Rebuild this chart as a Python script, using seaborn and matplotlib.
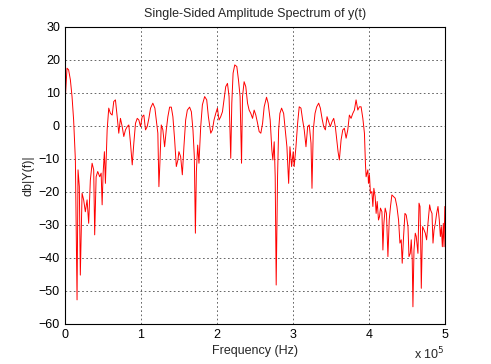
import numpy as np
import pandas as pd
import matplotlib
matplotlib.use("Agg")
import matplotlib.pyplot as plt
import seaborn as sns
from matplotlib.ticker import FuncFormatter

# ------------------------------------------------------------------
# data (frequency in units of 1e5 Hz, level in dB)
# ------------------------------------------------------------------
freq_e5 = [
    0.0, 0.029, 0.05, 0.073, 0.095, 0.116, 0.139, 0.161, 0.174, 0.191,
    0.204, 0.227, 0.248, 0.27, 0.293, 0.314, 0.336, 0.359, 0.38, 0.393,
    0.412, 0.433, 0.459, 0.478, 0.491, 0.504, 0.521, 0.534, 0.557, 0.578,
    0.6, 0.623, 0.644, 0.666, 0.689, 0.71, 0.732, 0.755, 0.776, 0.798,
    0.821, 0.842, 0.864, 0.887, 0.908, 0.93, 0.953, 0.974,
    0.996, 1.018, 1.04, 1.062, 1.084, 1.106, 1.128, 1.158, 1.185, 1.203,
    1.224, 1.238, 1.251, 1.269, 1.29, 1.313, 1.335, 1.356, 1.379, 1.401,
    1.422, 1.445, 1.467, 1.488, 1.501, 1.524, 1.546, 1.567, 1.59, 1.612,
    1.642, 1.665, 1.686, 1.704, 1.718, 1.731, 1.748, 1.765, 1.788, 1.81,
    1.84, 1.867, 1.889, 1.92,
    1.942, 1.963, 1.986, 2.008, 2.029, 2.051, 2.074, 2.095, 2.117, 2.14,
    2.161, 2.183, 2.197, 2.214, 2.236, 2.263, 2.285, 2.306, 2.325, 2.338,
    2.359, 2.381, 2.404, 2.425, 2.447, 2.47, 2.491, 2.513, 2.536, 2.557,
    2.579, 2.602, 2.623, 2.654, 2.675, 2.702, 2.724, 2.737, 2.755, 2.768,
    2.781, 2.799, 2.813, 2.83, 2.852, 2.879, 2.896, 2.922, 2.945, 2.962,
    2.984, 3.005, 3.018, 3.041, 3.063, 3.084, 3.107, 3.129, 3.15, 3.173,
    3.195, 3.216, 3.239, 3.252, 3.269, 3.292, 3.314, 3.34, 3.362, 3.384,
    3.406, 3.428, 3.45, 3.472, 3.493, 3.516, 3.538, 3.559, 3.578, 3.595,
    3.612, 3.635, 3.657, 3.678, 3.701, 3.723, 3.744, 3.766, 3.789, 3.81,
    3.832, 3.855, 3.876, 3.898, 3.921, 3.942, 3.955,
    3.964, 3.987, 3.995, 4.008, 4.021, 4.04, 4.053, 4.066, 4.083, 4.096,
    4.11, 4.127, 4.14, 4.153, 4.172, 4.185, 4.198, 4.215, 4.232, 4.251,
    4.268, 4.285, 4.303, 4.325, 4.347, 4.369, 4.391, 4.409, 4.426, 4.439,
    4.457, 4.475, 4.492, 4.515, 4.528, 4.545, 4.558, 4.571, 4.58, 4.594,
    4.611, 4.624, 4.646, 4.66, 4.673, 4.681, 4.69, 4.707, 4.726, 4.743,
    4.76, 4.778, 4.8, 4.813, 4.831, 4.844, 4.858, 4.875, 4.892, 4.91,
    4.927, 4.941, 4.954, 4.967, 4.98, 4.989, 5.0,
]
level_db = [
    5.8, 17.5, 17.0, 14.0, 8.9, 1.8, -10.3, -52.7, -13.3, -18.4,
    -45.2, -20.4, -22.4, -26.0, -22.4, -29.5, -16.4, -11.3, -13.3, -33.0,
    -15.4, -13.8, -15.4, -14.3, -23.9, -14.3, -7.8, -17.4, -1.2, 5.4,
    3.8, 3.3, 7.4, 7.9, 2.8, -2.2, 2.3, -0.2, -3.2, -1.2,
    -0.2, 0.3, -5.2, -11.8, -5.2, 0.8, 2.3, 1.8,
    -0.2, 2.8, 3.3, -1.2, -0.2, 2.3, 5.4, 6.9, 5.4, 1.8,
    -2.2, -18.4, -11.3, 0.3, -1.2, -6.3, -1.2, 2.8, 5.7, 5.7,
    2.8, -4.2, -12.3, -10.3, -7.8, -9.3, -14.8, -6.3, 1.8, 4.8,
    5.7, 4.3, -1.2, -9.3, -32.5, -13.8, -5.8, -11.3, -0.2, 6.4,
    8.9, 7.9, 2.8, -2.2,
    -1.2, 1.8, 3.8, 5.4, 1.8, 2.8, 4.3, 7.9, 11.9, 12.9,
    8.9, -9.8, 6.9, 16.0, 18.5, 18.0, 13.9, 8.9, -11.3, 8.9,
    13.4, 11.9, 6.9, 4.8, 3.8, 2.3, 4.8, 3.3, 0.8, -1.7,
    -2.2, 0.8, 5.8, 8.7, 6.9, 1.8, -7.3, -10.3, -4.8, -15.4,
    -48.2, -15.4, -1.2, 3.8, 5.4, 3.8, -0.2, -6.3, -17.4, -6.3,
    -12.3, -7.8, -12.3, -6.3, 0.8, 5.8, 5.4, 1.8, -1.2, -6.3,
    -0.2, 0.3, -5.2, -18.9, -1.2, 3.8, 5.8, 6.9, 5.4, 2.3,
    -0.2, -1.2, 2.8, 1.3, -0.2, 1.3, 2.3, -0.2, -4.2, -7.8,
    -10.3, -4.2, -1.2, -0.7, -3.7, -1.2, 3.3, 2.3, 3.8, 4.8,
    7.9, 4.8, 5.8, 5.8, 2.3, -2.2, -11.3,
    -15.4, -13.3, -17.4, -14.8, -20.4, -19.9, -24.4, -18.9, -21.4, -26.5,
    -22.9, -28.5, -27.5, -24.9, -26.0, -37.6, -29.5, -24.9, -26.5, -39.6,
    -28.5, -24.4, -20.9, -21.4, -21.9, -24.4, -28.5, -35.5, -34.5, -41.6,
    -33.5, -26.5, -27.0, -30.5, -39.6, -38.6, -34.5, -40.6, -54.8, -37.6,
    -32.5, -33.5, -38.6, -23.4, -24.4, -33.5, -49.2, -30.5, -31.5, -32.5,
    -34.5, -29.5, -23.9, -25.5, -26.5, -35.5, -31.5, -29.5, -26.5, -24.4,
    -28.5, -33.5, -30.5, -36.6, -29.5, -36.6, -24.4,
]

df = pd.DataFrame({"freq": np.array(freq_e5) * 1e5, "db": level_db})

# ------------------------------------------------------------------
# plot
# ------------------------------------------------------------------
sns.set_style("white")
plt.rcParams["font.family"] = ["Liberation Sans", "DejaVu Sans"]

fig = plt.figure(figsize=(4.91, 3.64), dpi=100)
ax = fig.add_axes([0.132, 0.110, 0.774, 0.816])

sns.lineplot(data=df, x="freq", y="db", ax=ax, color="red",
             linewidth=0.7, estimator=None, sort=False)

ax.set_xlim(0, 5e5)
ax.set_ylim(-60, 30)
ax.set_xticks(np.arange(0, 6e5, 1e5))
ax.set_yticks(np.arange(-60, 31, 10))
ax.xaxis.set_major_formatter(FuncFormatter(lambda v, p: f"{v / 1e5:g}"))

ax.grid(True, color="0.3", linestyle=(0, (2, 3)), linewidth=0.6)
ax.tick_params(direction="in", length=3, labelsize=9, colors="black")
for s in ax.spines.values():
    s.set_color("black")
    s.set_linewidth(0.8)

ax.set_title("Single-Sided Amplitude Spectrum of y(t)", fontsize=9, pad=7)
ax.set_xlabel("Frequency (Hz)", fontsize=9, labelpad=3)
ax.set_ylabel("db|Y(f)|", fontsize=9, labelpad=3)
fig.text(0.906, 0.004, "x 10$^{5}$", ha="right", va="bottom", fontsize=9)

fig.savefig("out.png", dpi=100)
